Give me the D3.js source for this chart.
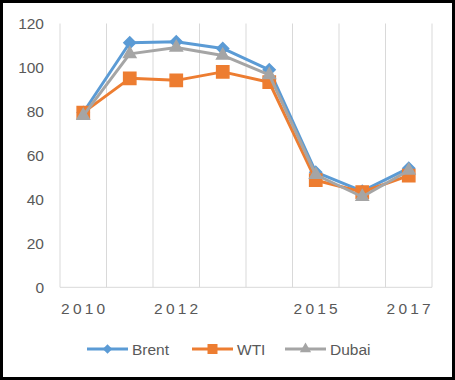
<!DOCTYPE html>
<html><head><meta charset="utf-8">
<script src="https://cdn.jsdelivr.net/npm/d3@7"></script>
<style>body{margin:0;background:#fff}svg{display:block}text{font-family:"Liberation Sans",Arial,sans-serif;fill:#595959}</style>
</head><body><svg id="c" width="455" height="380"></svg>
<script>
const years = [2010, 2011, 2012, 2013, 2014, 2015, 2016, 2017];
const shownYears = [2010, 2012, 2015, 2017];
const brent = [79.5, 111.26, 111.67, 108.66, 98.95, 52.39, 43.73, 54.19];
const wti = [79.45, 95.04, 94.13, 97.99, 93.28, 48.71, 43.34, 50.79];
const dubai = [78.06, 106.18, 109.08, 105.48, 96.61, 51.20, 41.19, 53.13];
const yTicks = [0, 20, 40, 60, 80, 100, 120];
const seriesNames = ["Brent", "WTI", "Dubai"];
const colors = ["#5B9BD5", "#ED7D31", "#A5A5A5"];
const symbols = [d3.symbolSquare, d3.symbolSquare, d3.symbolTriangle];
const rotations = [45, 0, 0];

const svg = d3.select("#c");
const x = d3.scaleBand().domain(years).range([60, 432]);
const y = d3.scaleLinear().domain([0, 120]).range([287.3, 23.5]);

const bounds = years.map(d => x(d)).concat([x.range()[1]]);
svg.append("g").selectAll("line").data(bounds).join("line")
  .attr("x1", d => d).attr("x2", d => d).attr("y1", y(120)).attr("y2", y(0))
  .attr("stroke", "#D9D9D9").attr("stroke-width", 1);
svg.append("line").attr("x1", 60).attr("x2", 432).attr("y1", y(0)).attr("y2", y(0))
  .attr("stroke", "#D9D9D9").attr("stroke-width", 1);

svg.append("g").selectAll("text").data(yTicks).join("text")
  .attr("x", 44).attr("y", d => y(d)).attr("dy", "0.36em")
  .attr("text-anchor", "end").attr("font-size", 15.5).text(d => d);

svg.append("g").selectAll("text").data(shownYears).join("text")
  .attr("x", d => x(d) + x.bandwidth() / 2 + 1.5).attr("y", 314)
  .attr("text-anchor", "middle").attr("font-size", 15.5).attr("letter-spacing", "3.2px").text(d => d);

const data = [brent, wti, dubai];
const line = d3.line().x((d, i) => x(years[i]) + x.bandwidth() / 2).y(d => y(d));
const sizes = [70, 150, 65];
data.forEach((vals, k) => {
  const g = svg.append("g");
  g.append("path").attr("d", line(vals)).attr("fill", "none")
    .attr("stroke", colors[k]).attr("stroke-width", 3).attr("stroke-linejoin", "round");
  g.selectAll("path.m").data(vals).join("path").attr("class", "m")
    .attr("transform", (d, i) => `translate(${x(years[i]) + x.bandwidth() / 2},${y(d)}) rotate(${rotations[k]})`)
    .attr("d", d3.symbol().type(symbols[k]).size(sizes[k]))
    .attr("fill", colors[k]).attr("stroke", colors[k]).attr("stroke-width", 1.5);
});

const legX = [87, 192, 285];
const leg = svg.append("g");
seriesNames.forEach((n, k) => {
  const g = leg.append("g");
  g.append("line").attr("x1", legX[k]).attr("x2", legX[k] + 41).attr("y1", 349).attr("y2", 349)
    .attr("stroke", colors[k]).attr("stroke-width", 3);
  g.append("path").attr("transform", `translate(${legX[k] + 20.5},349) rotate(${rotations[k]})`)
    .attr("d", d3.symbol().type(symbols[k]).size([45, 100, 55][k])).attr("fill", colors[k]);
  g.append("text").attr("x", legX[k] + 45).attr("y", 355).attr("font-size", 15.5).text(n);
});

svg.append("rect").attr("x", 1.5).attr("y", 1.5).attr("width", 452).attr("height", 377)
  .attr("fill", "none").attr("stroke", "#000").attr("stroke-width", 3);
</script></body></html>
